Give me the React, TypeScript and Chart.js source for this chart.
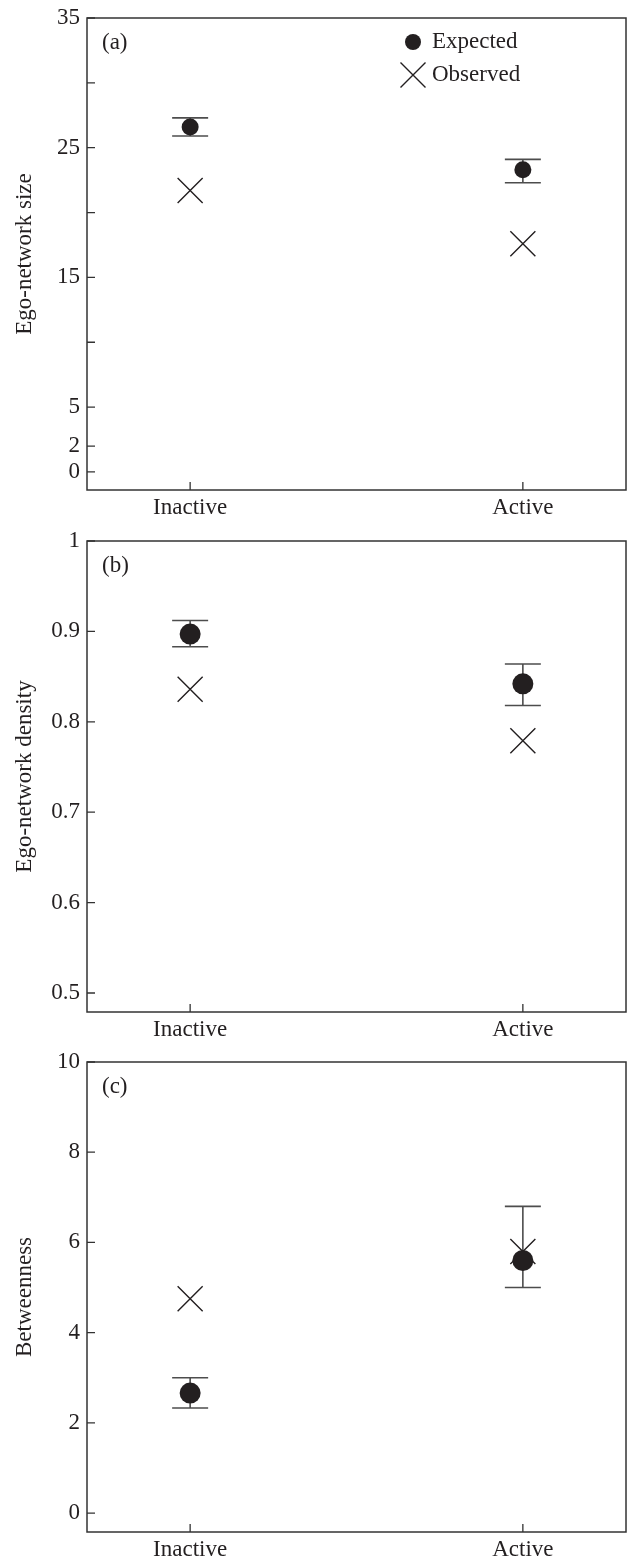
import React, { useEffect, useRef } from 'react';
import { Chart, registerables } from 'chart.js';

Chart.register(...registerables);

// ---------- data ----------
const categories = ['Inactive', 'Active'];
const categoryPos = [0, 1];

const sizeExpected = [26.6, 23.3];
const sizeExpectedLow = [25.9, 22.3];
const sizeExpectedHigh = [27.3, 24.1];
const sizeObserved = [21.7, 17.6];
const sizeTicks = [0, 2, 5, 10, 15, 20, 25, 30, 35];
const sizeTickLabels = ['0', '2', '5', '', '15', '', '25', '', '35'];

const densityExpected = [0.897, 0.842];
const densityExpectedLow = [0.883, 0.818];
const densityExpectedHigh = [0.912, 0.864];
const densityObserved = [0.836, 0.779];
const densityTicks = [0.5, 0.6, 0.7, 0.8, 0.9, 1];
const densityTickLabels = ['0.5', '0.6', '0.7', '0.8', '0.9', '1'];

const betweenExpected = [2.66, 5.6];
const betweenExpectedLow = [2.33, 5.0];
const betweenExpectedHigh = [3.0, 6.8];
const betweenObserved = [4.75, 5.8];
const betweenTicks = [0, 2, 4, 6, 8, 10];
const betweenTickLabels = ['0', '2', '4', '6', '8', '10'];

const legendLabels = ['Expected', 'Observed'];

// ---------- style ----------
const INK = '#231f20';
const BAR = '#4d4d4d';
const FONT_FAMILY = '"Liberation Serif", "DejaVu Serif", serif';
const FONT_SIZE = 23;

type PanelProps = {
  letter: string;
  yTitle: string;
  yMin: number;
  yMax: number;
  ticks: number[];
  tickLabels: string[];
  expected: number[];
  low: number[];
  high: number[];
  observed: number[];
  top: number;
  height: number;
  chartTop: number;
  chartBottom: number;
  dotRadius: number;
  legend?: boolean;
};

function Panel(p: PanelProps) {
  const ref = useRef<HTMLCanvasElement | null>(null);

  useEffect(() => {
    const canvas = ref.current;
    if (!canvas) return;
    const font = { family: FONT_FAMILY, size: FONT_SIZE, lineHeight: 1.2 };

    const errorBars = {
      id: 'errorBars',
      beforeDatasetsDraw(chart: any) {
        const { ctx, scales } = chart;
        const x = scales.x;
        const y = scales.y;
        ctx.save();
        ctx.strokeStyle = BAR;
        ctx.lineWidth = 1.6;
        p.low.forEach((lo, i) => {
          const px = x.getPixelForValue(categoryPos[i]);
          const y1 = y.getPixelForValue(lo);
          const y2 = y.getPixelForValue(p.high[i]);
          ctx.beginPath();
          ctx.moveTo(px, y1);
          ctx.lineTo(px, y2);
          ctx.moveTo(px - 18, y1);
          ctx.lineTo(px + 18, y1);
          ctx.moveTo(px - 18, y2);
          ctx.lineTo(px + 18, y2);
          ctx.stroke();
        });
        ctx.restore();
      },
    };

    const frame = {
      id: 'frame',
      afterDraw(chart: any) {
        const { ctx, chartArea: a, scales } = chart;
        ctx.save();
        ctx.strokeStyle = '#333';
        ctx.lineWidth = 1.5;
        ctx.strokeRect(a.left, a.top, a.right - a.left, a.bottom - a.top);
        ctx.lineWidth = 1.3;
        ctx.beginPath();
        scales.y.ticks.forEach((t: any) => {
          const py = scales.y.getPixelForValue(t.value);
          ctx.moveTo(a.left, py);
          ctx.lineTo(a.left + 8, py);
        });
        scales.x.ticks.forEach((t: any) => {
          const px = scales.x.getPixelForValue(t.value);
          ctx.moveTo(px, a.bottom);
          ctx.lineTo(px, a.bottom - 8);
        });
        ctx.stroke();
        // panel letter
        ctx.fillStyle = INK;
        ctx.font = `${FONT_SIZE}px ${FONT_FAMILY}`;
        ctx.textBaseline = 'middle';
        ctx.textAlign = 'left';
        ctx.fillText(p.letter, a.left + 15, a.top + 25);
        if (p.legend) {
          const lx = 413;
          const ly1 = a.top + 24;
          const ly2 = a.top + 57;
          ctx.beginPath();
          ctx.arc(lx, ly1, 8, 0, Math.PI * 2);
          ctx.fill();
          ctx.strokeStyle = INK;
          ctx.lineWidth = 1.4;
          ctx.beginPath();
          ctx.moveTo(lx - 12.5, ly2 - 12.5);
          ctx.lineTo(lx + 12.5, ly2 + 12.5);
          ctx.moveTo(lx - 12.5, ly2 + 12.5);
          ctx.lineTo(lx + 12.5, ly2 - 12.5);
          ctx.stroke();
          ctx.fillText(legendLabels[0], lx + 19, ly1);
          ctx.fillText(legendLabels[1], lx + 19, ly2);
        }
        ctx.restore();
      },
    };

    const chart = new Chart(canvas, {
      type: 'scatter',
      data: {
        datasets: [
          {
            label: legendLabels[0],
            data: categoryPos.map((x, i) => ({ x, y: p.expected[i] })),
            pointStyle: 'circle',
            pointRadius: p.dotRadius,
            backgroundColor: INK,
            borderColor: INK,
            borderWidth: 0,
          },
          {
            label: legendLabels[1],
            data: categoryPos.map((x, i) => ({ x, y: p.observed[i] })),
            pointStyle: 'crossRot',
            pointRadius: 17.7,
            backgroundColor: INK,
            borderColor: INK,
            borderWidth: 1.4,
          },
        ],
      },
      options: {
        animation: false,
        responsive: false,
        maintainAspectRatio: false,
        events: [],
        layout: { autoPadding: false, padding: { left: 0, right: 2, top: p.chartTop, bottom: 0 } },
        plugins: {
          legend: { display: false },
          tooltip: { enabled: false },
        },
        scales: {
          x: {
            type: 'linear',
            min: -0.31,
            max: 1.31,
            afterBuildTicks: (s: any) => {
              s.ticks = categoryPos.map((v) => ({ value: v }));
            },
            afterFit: (s: any) => {
              s.height = p.height - p.chartBottom;
              s.paddingLeft = 0;
              s.paddingRight = 0;
            },
            ticks: {
              callback: (_v: any, i: number) => categories[i],
              font,
              color: INK,
              padding: 4,
              maxRotation: 0,
              autoSkip: false,
            },
            grid: { display: false, drawTicks: false },
            border: { display: false },
          },
          y: {
            type: 'linear',
            min: p.yMin,
            max: p.yMax,
            afterBuildTicks: (s: any) => {
              s.ticks = p.ticks.map((v) => ({ value: v }));
            },
            afterFit: (s: any) => {
              s.width = 87;
              s.paddingTop = 0;
              s.paddingBottom = 0;
            },
            ticks: {
              callback: (_v: any, i: number) => p.tickLabels[i],
              font,
              color: INK,
              padding: 7,
              autoSkip: false,
            },
            grid: { display: false, drawTicks: false },
            border: { display: false },
            title: {
              display: true,
              text: p.yTitle,
              font,
              color: INK,
              padding: { top: 11, bottom: 0 },
            },
          },
        },
      },
      plugins: [errorBars, frame],
    } as any);

    return () => chart.destroy();
  }, []);

  return (
    <canvas
      ref={ref}
      width={628}
      height={p.height}
      style={{ position: 'absolute', left: 0, top: p.top, display: 'block' }}
    />
  );
}

export default function App() {
  return (
    <div style={{ position: 'absolute', left: 0, top: 0, width: 628, height: 1561, background: '#fff' }}>
      <Panel
        letter="(a)"
        yTitle="Ego-network size"
        yMin={-1.39}
        yMax={35}
        ticks={sizeTicks}
        tickLabels={sizeTickLabels}
        expected={sizeExpected}
        low={sizeExpectedLow}
        high={sizeExpectedHigh}
        observed={sizeObserved}
        top={0}
        height={520}
        chartTop={18}
        chartBottom={490}
        dotRadius={8.5}
        legend
      />
      <Panel
        letter="(b)"
        yTitle="Ego-network density"
        yMin={0.479}
        yMax={1}
        ticks={densityTicks}
        tickLabels={densityTickLabels}
        expected={densityExpected}
        low={densityExpectedLow}
        high={densityExpectedHigh}
        observed={densityObserved}
        top={520}
        height={520}
        chartTop={21}
        chartBottom={492}
        dotRadius={10.5}
      />
      <Panel
        letter="(c)"
        yTitle="Betweenness"
        yMin={-0.42}
        yMax={10}
        ticks={betweenTicks}
        tickLabels={betweenTickLabels}
        expected={betweenExpected}
        low={betweenExpectedLow}
        high={betweenExpectedHigh}
        observed={betweenObserved}
        top={1040}
        height={521}
        chartTop={22}
        chartBottom={492}
        dotRadius={10.5}
      />
    </div>
  );
}
